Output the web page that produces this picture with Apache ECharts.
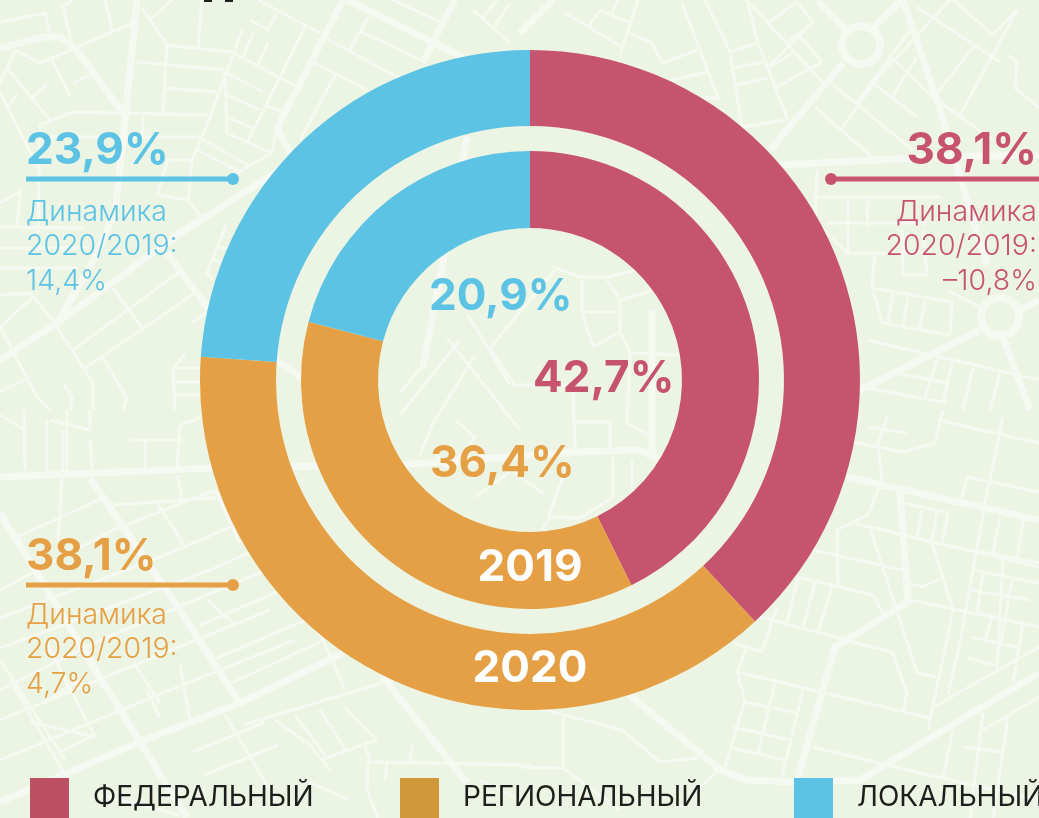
<!DOCTYPE html>
<html>
<head>
<meta charset="utf-8">
<title>Доли бюджетов</title>
<script src="https://cdn.jsdelivr.net/npm/echarts@6/dist/echarts.min.js"></script>
<style>
  html, body { margin: 0; padding: 0; background: #ecf4e3; overflow: hidden; }
  #chart { width: 1039px; height: 818px; }
</style>
</head>
<body>
<div id="chart"></div>
<script>
  const levels = ["ФЕДЕРАЛЬНЫЙ", "РЕГИОНАЛЬНЫЙ", "ЛОКАЛЬНЫЙ"];
  const share2020 = [38.1, 38.1, 23.9];
  const share2019 = [42.7, 36.4, 20.9];
  const dynamics = [-10.8, 4.7, 14.4];
  const colors = ["#c7546e", "#e5a045", "#5dc3e4"];
  const legendColors = ["#bc5063", "#d19839", "#5dc3e4"];

  // карта на фоне, толстые и тонкие улицы
  const roadsThick = [
    [137,0,125,120,115,213,90,267,57,323,0,360],
    [0,48,43,37,60,37,75,48,123,113],
    [343,0,277,128,290,153],
    [347,0,463,57],
    [455,0,433,42,423,63],
    [280,170,180,233,57,323],
    [167,253,207,307,300,377],
    [467,137,423,367],
    [553,0,520,33],
    [817,0,847,30],[902,0,873,28],
    [843,63,770,150],
    [903,0,937,100,967,200,987,265],
    [780,165,933,157,1039,155],
    [980,330,860,390],[1003,337,1030,410],[1020,310,1039,300],
    [0,477,213,468,400,465,573,452,640,450,670,465],
    [90,478,173,600,240,703],
    [0,513,43,583,143,747,187,818],
    [0,802,137,743,240,703,343,653],
    [383,677,467,783],
    [627,693,720,770,747,780,797,782,860,780,1039,673],
    [847,477,1039,520],
    [900,493,908,602,835,647,797,780],
    [300,377,370,446],
    [652,310,652,460]
  ];
  const roadsThin = [
    [0,22,45,13,50,35],[72,0,63,7,73,47],[105,0,113,32],[75,48,133,23],[15,50,40,63,72,50],
    [52,60,70,95],[73,83,90,75],[15,50,0,83],[7,68,50,120],[32,97,47,85],[7,107,17,95],[0,93,38,167],
    [40,125,72,112,208,115],[40,125,38,233],[142,8,167,45,232,52],[167,45,163,112],[202,0,198,47],
    [137,62,225,70],[165,88,217,92],[242,30,210,117,192,160,188,200],[172,0,150,20],
    [253,33,243,57],[268,43,258,65],[232,52,297,87],[225,72,263,92],[225,70,227,133,272,153],
    [227,95,260,110],[227,117,252,128],[305,27,247,143],[265,105,282,112],[258,0,320,33],
    [250,20,268,30,277,13],[325,38,403,80],[368,17,350,50],[362,32,427,63],[313,62,367,90],[335,75,300,140],
    [393,0,442,23],[473,10,510,43],[493,28,510,3],[483,18,497,0],[143,113,143,135],[40,137,200,137],
    [200,138,248,165],[197,150,240,172],[192,160,168,160,157,195,188,200,202,218],[272,153,237,173],[272,153,277,128],
    [0,203,20,192,17,227],[0,227,83,228],[0,248,90,248],[0,268,77,268],[227,223,207,273,213,280],
    [217,247,233,250],[212,260,230,263],[0,295,30,293,53,320],[0,327,33,297],[113,288,142,328],
    [178,273,73,350],[195,293,85,368],[57,327,93,383,93,410],[0,327,37,397,50,410],[103,358,127,398,123,410],
    [0,392,30,377],[63,383,72,398,70,410],[185,353,173,370,175,410],[173,368,203,368],[175,382,200,382],[175,395,200,395],
    [193,322,207,312,270,357],
    // центр
    [582,280,582,313,593,347],[582,312,620,312],[620,300,620,332,630,353,627,423,648,435],
    [607,280,620,300,653,290],[553,267,580,277,607,277,637,270],[620,332,593,347],
    [490,348,515,385,573,385,575,450],[573,395,575,450],[575,422,610,422,610,450],
    [630,353,678,355],[613,457,613,497,580,518,550,517,542,530],[632,460,632,490],[563,477,548,517],
    [490,348,555,270],[468,315,510,385],[425,363,400,393],[447,338,520,430],
    [460,340,400,415],[475,355,432,425,420,455],[455,420,475,437,450,470,435,455],
    [475,497,512,470,545,495],
    // верх справа
    [682,3,718,98,700,98],[705,0,730,52,742,127],[730,52,758,43,788,120],[733,68,763,62],[737,85,768,78],
    [747,0,758,43],[747,0,823,83],[768,23,797,2,813,22,768,67],[787,43,813,22],[793,53,768,68],[822,62,775,88],[797,33,822,62],
    [630,33,652,43,662,63,698,50],[663,82,707,72],[737,128,785,120],[638,0,620,55],[565,13,622,47],
    [600,10,588,27],[600,10,630,23],[618,0,612,13],
    [815,107,872,157],[833,85,913,150],[892,58,842,128],[873,83,917,117],[892,58,933,97],[917,57,892,97],
    [950,0,873,83],[910,30,857,103],[917,7,1000,62],[953,0,993,35,1017,10],[975,45,937,93],
    [1008,55,1017,62,1015,88,1039,108],[937,100,993,140],[1017,10,960,115],
    [817,170,815,227],[813,197,940,197],[827,223,927,223],[848,197,848,253],[868,197,867,227],[820,227,848,253],
    [845,253,927,253],[902,230,903,275,927,275,923,230],[875,253,872,287,882,323,950,335],
    [872,288,952,302,950,335],[893,293,888,323],[908,297,903,327],[925,300,920,328],[947,290,980,307],
    [867,340,1039,380],[937,360,925,397],[952,363,943,403],[973,368,963,410],[1000,373,990,410],[897,373,947,383],[862,387,947,403],
    // низ справа
    [868,427,907,433],[853,442,903,452,935,443,943,410],[887,417,878,443,882,480,868,515,837,530,838,585],
    [937,420,1039,443],[1003,417,985,503,960,643,948,694],[967,477,962,498],[967,477,1039,492],
    [853,523,1039,567],[813,550,902,570],[903,503,948,513,942,543],[922,510,917,537],[937,512,932,540],
    [870,528,917,673,937,677],[932,543,953,610,928,730],[910,600,1039,627],[908,583,922,587,942,578],
    [797,577,873,595,883,613],[798,578,787,622],[815,583,803,627],[832,587,818,632],
    [760,617,892,652,907,693,903,712],[777,607,762,652,733,643],[747,647,737,672,745,700,725,768],
    [737,672,930,718],[775,683,758,753],[803,690,782,777],[745,702,797,713],[733,727,790,740],[732,748,785,760],
    [813,747,920,773,1039,800],[933,708,958,693,1020,658,1039,647],[953,730,943,777],[983,712,970,820],
    [963,747,1002,752],[1008,717,993,818],[983,730,1039,697],
    [973,550,1039,563],[973,570,1039,583],[970,590,1030,600],[977,613,1023,623],[972,637,1020,648],[967,658,995,665],
    [1003,560,997,670],[1023,520,1017,560],[1000,517,993,553],[983,573,977,613],[992,617,985,640],[1012,580,1000,647],[1023,623,1013,683],
    [563,717,563,768,520,767],[520,703,622,730,660,762,698,758],[563,768,620,810],[520,800,480,780],[720,768,680,808],
    // низ слева
    [17,537,103,498],[0,590,113,530,215,490],[0,618,165,555,247,520],[0,648,210,570,300,530],[0,690,100,640,290,560],
    [0,720,135,665,270,610],[0,760,170,690,295,640],[75,640,103,688],[0,660,65,760],
    [215,490,240,543],[155,500,183,542],[240,508,290,590],[200,625,300,582],[213,660,310,618],[227,685,320,642],
    [135,665,160,703],[147,690,160,718],[207,600,235,625],[45,640,95,737],[10,680,68,780],
    [30,722,95,737],[47,700,80,680],[60,752,95,735],[290,590,323,640,345,690],
    [275,720,310,745,330,770],[295,715,325,755],[320,710,347,752],[345,708,377,740],[377,740,320,760],
    [243,725,448,663,462,640],[225,715,280,807],[193,752,265,722],[205,775,278,745],
    [365,745,370,762,530,765],[412,745,410,762],[368,762,367,790,378,818],[387,763,385,780],
    [177,470,180,425,200,418],[63,478,63,430],[47,478,47,420],[90,440,93,478],[145,440,145,468],[183,440,130,440],[24,410,25,470],
    [0,415,25,430],[67,410,67,478],[90,410,90,430],[50,420,90,430],[178,497,182,500,215,498],[177,475,182,497],
    [157,503,183,545],[113,505,215,498],[62,478,58,540],[180,665,190,720],[300,778,350,800],[100,795,180,815]
  ];
  const rings = [[861,45],[1000,317]];

  const fmt = v => v.toFixed(1).replace(".", ",") + "%";
  const fmtDyn = v => (v < 0 ? "–" : "") + Math.abs(v).toFixed(1).replace(".", ",") + "%";

  const bigFont = '700 44px Inter';
  const smallFont = '300 28.5px Inter';

  function road(points, w) {
    const pts = [];
    for (let i = 0; i < points.length; i += 2) pts.push([points[i], points[i + 1]]);
    return {
      type: "polyline", silent: true, z: 0,
      shape: { points: pts },
      style: { fill: null, stroke: "#f6f9f2", lineWidth: w }
    };
  }
  function text(str, x, y, color, font, align) {
    return {
      type: "text", silent: true, z: 10, x: x, y: y,
      style: { text: str, fill: color, font: font, textAlign: align || "left", textVerticalAlign: "middle" }
    };
  }

  // выноска: процент, линия с точкой, три строки подписи
  function callout(i, side, y, shift) {
    const left = side === "left";
    const c = colors[i];
    const tx = left ? 26 : 1037;
    const align = left ? "left" : "right";
    const x0 = left ? 26 : 1039;
    const x1 = left ? 233 : 831;
    const out = [
      text(fmt(share2020[i]), tx, y - 28, c, bigFont, align),
      {
        type: "line", silent: true, z: 10,
        shape: { x1: x0, y1: y, x2: x1, y2: y },
        style: { stroke: c, lineWidth: 5 }
      },
      { type: "circle", silent: true, z: 10, shape: { cx: x1, cy: y, r: 6 }, style: { fill: c } }
    ];
    ["Динамика", "2020/2019:", fmtDyn(dynamics[i])].forEach((s, k) => {
      out.push(text(s, tx, y + 33 + shift + k * 34.5, c, smallFont, align));
    });
    return out;
  }

  const chart = echarts.init(document.getElementById("chart"), null, { renderer: "canvas" });

  const pieSeries = (values, radius) => ({
    type: "pie",
    radius: radius,
    center: [530, 380],
    startAngle: 90,
    silent: true,
    label: { show: false },
    labelLine: { show: false },
    data: levels.map((name, i) => ({ name: name, value: values[i], itemStyle: { color: colors[i] } }))
  });

  const graphics = [].concat(
    roadsThick.map(p => road(p, 7)),
    roadsThin.map(p => road(p, 3)),
    rings.map(c => ({
      type: "circle", silent: true, z: 0,
      shape: { cx: c[0], cy: c[1], r: 19 },
      style: { fill: null, stroke: "#f6f9f2", lineWidth: 8 }
    })),
    [
      { type: "rect", silent: true, z: 10, shape: { x: 204, y: 0, width: 8, height: 2 }, style: { fill: "#1e1e1c" } },
      { type: "rect", silent: true, z: 10, shape: { x: 225, y: 0, width: 8, height: 2 }, style: { fill: "#1e1e1c" } }
    ],
    callout(2, "left", 179, 0),
    callout(0, "right", 179, 0),
    callout(1, "left", 585, -3),
    [
      text(fmt(share2019[2]), 429, 297, colors[2], bigFont),
      text(fmt(share2019[0]), 533, 379, colors[0], bigFont),
      text(fmt(share2019[1]), 430, 464, colors[1], bigFont),
      text("2019", 530, 568, "#ffffff", bigFont, "center"),
      text("2020", 530, 669, "#ffffff", bigFont, "center")
    ]
  );

  const legendLeft = [30, 400, 794];

  chart.setOption({
    animation: false,
    backgroundColor: "#ecf4e3",
    legend: levels.map((name, i) => ({
      left: legendLeft[i],
      top: 778,
      padding: 0,
      icon: "rect",
      itemWidth: 39,
      itemHeight: 40,
      itemGap: 0,
      selectedMode: false,
      textStyle: { fontFamily: "Inter", fontSize: 28, color: "#1e1e1c", padding: [0, 0, 0, 19] },
      data: [{ name: name, itemStyle: { color: legendColors[i] } }]
    })),
    series: [pieSeries(share2020, [254, 330]), pieSeries(share2019, [152, 229])],
    graphic: { elements: graphics }
  });
</script>
</body>
</html>
